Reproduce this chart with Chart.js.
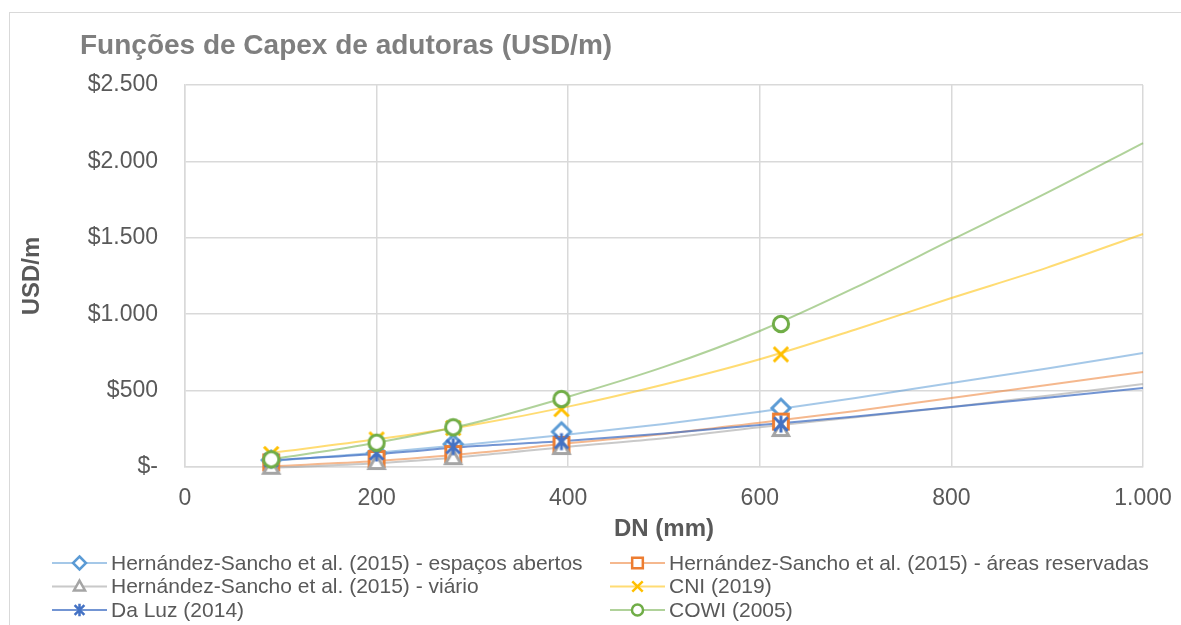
<!DOCTYPE html>
<html>
<head>
<meta charset="utf-8">
<script src="https://cdn.jsdelivr.net/npm/chart.js@4.4.1/dist/chart.umd.min.js"></script>
<style>
  html, body { margin: 0; padding: 0; background: #ffffff; overflow: hidden; }
  #wrap { position: absolute; left: 0; top: 0; width: 1181px; height: 625px; }
</style>
</head>
<body>
<div id="wrap"><canvas id="chart" width="1181" height="625"></canvas></div>
<script>
// ---- data -------------------------------------------------------------
const seriesNames = [
  'Hernández-Sancho et al. (2015) - espaços abertos',
  'Hernández-Sancho et al. (2015) - áreas reservadas',
  'Hernández-Sancho et al. (2015) - viário',
  'CNI (2019)',
  'Da Luz (2014)',
  'COWI (2005)'
];

// diameters (mm) where each cost function was evaluated
const markerDN = [90, 200, 280, 393, 622];
const espacosAbertos = [45, 92, 150, 231, 385];
const areasReservadas = [30, 52, 85, 144, 297];
const viario = [-5, 26, 58, 124, 242];
const cni2019 = [85, 180, 255, 379, 737];
const daLuz2014 = [45, 92, 133, 166, 281];
const cowi2005 = [50, 159, 260, 445, 936];

// fitted curves, extended to DN 1.000
const curveDN = [90, 200, 300, 400, 500, 600, 700, 800, 900, 1000];
const curveEspacosAbertos = [40, 94, 150, 212, 282, 362, 452, 550, 645, 746];
const curveAreasReservadas = [5, 39, 90, 155, 216, 290, 366, 452, 536, 622];
const curveViario = [-5, 24, 72, 133, 188, 260, 325, 393, 466, 543];
const curveCni2019 = [92, 181, 275, 395, 540, 705, 900, 1106, 1305, 1525];
const curveDaLuz2014 = [45, 85, 135, 172, 220, 275, 330, 393, 453, 517];
const curveCowi2005 = [50, 159, 286, 460, 655, 890, 1175, 1486, 1795, 2120];

const xTickValues = [0, 200, 400, 600, 800, 1000];
const yTickValues = [0, 500, 1000, 1500, 2000, 2500];

// ---- styling ----------------------------------------------------------
const FONT = '"Liberation Sans", Arial, sans-serif';
const TEXT = '#595959';
const GRID = '#d9d9d9';

const markerValues = [espacosAbertos, areasReservadas, viario, cni2019, daLuz2014, cowi2005];
const curveValues = [curveEspacosAbertos, curveAreasReservadas, curveViario, curveCni2019, curveDaLuz2014, curveCowi2005];
const markerKinds = ['diamond', 'square', 'triangle', 'x', 'star', 'circle'];
const colors = ['#5B9BD5', '#ED7D31', '#A5A5A5', '#FFC000', '#4472C4', '#70AD47'];
const curveColors = [
  'rgba(91,155,213,0.55)', 'rgba(237,125,49,0.55)', 'rgba(165,165,165,0.6)',
  'rgba(255,192,0,0.55)', 'rgba(68,114,196,0.75)', 'rgba(112,173,71,0.55)'
];

function drawMarker(ctx, kind, cx, cy, r, color, lw) {
  ctx.save();
  ctx.strokeStyle = color;
  ctx.fillStyle = '#ffffff';
  ctx.lineWidth = lw;
  ctx.lineJoin = 'miter';
  ctx.beginPath();
  if (kind === 'diamond') {
    ctx.moveTo(cx, cy - r); ctx.lineTo(cx + r, cy); ctx.lineTo(cx, cy + r); ctx.lineTo(cx - r, cy);
    ctx.closePath(); ctx.fill(); ctx.stroke();
  } else if (kind === 'square') {
    const s = r * 0.82;
    ctx.rect(cx - s, cy - s, 2 * s, 2 * s); ctx.fill(); ctx.stroke();
  } else if (kind === 'triangle') {
    ctx.moveTo(cx, cy - r * 0.9); ctx.lineTo(cx + r * 0.85, cy + r * 0.6); ctx.lineTo(cx - r * 0.85, cy + r * 0.6);
    ctx.closePath(); ctx.fill(); ctx.stroke();
  } else if (kind === 'x') {
    const a = r * 0.8;
    ctx.moveTo(cx - a, cy - a); ctx.lineTo(cx + a, cy + a);
    ctx.moveTo(cx + a, cy - a); ctx.lineTo(cx - a, cy + a);
    ctx.stroke();
  } else if (kind === 'star') {
    const a = r * 0.75;
    ctx.moveTo(cx - a, cy - a); ctx.lineTo(cx + a, cy + a);
    ctx.moveTo(cx + a, cy - a); ctx.lineTo(cx - a, cy + a);
    ctx.moveTo(cx, cy - r * 0.95); ctx.lineTo(cx, cy + r * 0.95);
    ctx.stroke();
  } else {
    ctx.arc(cx, cy, r * 0.85, 0, Math.PI * 2); ctx.fill(); ctx.stroke();
  }
  ctx.restore();
}

function markerCanvas(kind, color, r, lw) {
  const size = Math.ceil(2 * (r + lw)) + 2;
  const c = document.createElement('canvas');
  c.width = size; c.height = size;
  drawMarker(c.getContext('2d'), kind, size / 2, size / 2, r, color, lw);
  return c;
}

function fmtThousands(v) {
  return String(v).replace(/\B(?=(\d{3})+(?!\d))/g, '.');
}

// ---- datasets ---------------------------------------------------------
const datasets = [];
seriesNames.forEach((name, i) => {
  datasets.push({
    label: name + ' (curva)',
    data: curveDN.map((x, k) => ({ x: x, y: curveValues[i][k] })),
    showLine: true,
    borderColor: curveColors[i],
    borderWidth: 2,
    pointRadius: 0,
    cubicInterpolationMode: 'monotone',
    fill: false,
    clip: false,
    order: 40 - i
  });
});
seriesNames.forEach((name, i) => {
  datasets.push({
    label: name,
    data: markerDN.map((x, k) => ({ x: x, y: markerValues[i][k] })),
    showLine: false,
    pointStyle: markerCanvas(markerKinds[i], colors[i], 9, 3),
    pointRadius: 9,
    clip: false,
    order: 20 - i
  });
});

// ---- plugins ----------------------------------------------------------
const frameAndTitle = {
  id: 'frameAndTitle',
  beforeDraw(chart) {
    const ctx = chart.ctx;
    ctx.save();
    ctx.fillStyle = '#ffffff';
    ctx.fillRect(0, 0, chart.width, chart.height);
    ctx.strokeStyle = GRID;
    ctx.lineWidth = 1;
    ctx.strokeRect(9.5, 12.5, chart.width + 20, chart.height + 20);
    ctx.fillStyle = '#7f7f7f';
    ctx.font = 'bold 28px ' + FONT;
    ctx.textBaseline = 'middle';
    ctx.textAlign = 'left';
    ctx.fillText('Funções de Capex de adutoras (USD/m)', 80, 46);
    ctx.restore();
  }
};

const seriesLegend = {
  id: 'seriesLegend',
  afterDraw(chart) {
    const ctx = chart.ctx;
    ctx.save();
    ctx.font = '21px ' + FONT;
    ctx.textBaseline = 'middle';
    ctx.textAlign = 'left';
    const colX = [52, 610];
    seriesNames.forEach((name, i) => {
      const x0 = colX[i % 2];
      const y = 563 + Math.floor(i / 2) * 23.5;
      ctx.strokeStyle = curveColors[i];
      ctx.lineWidth = 2;
      ctx.beginPath();
      ctx.moveTo(x0, y); ctx.lineTo(x0 + 55, y);
      ctx.stroke();
      drawMarker(ctx, markerKinds[i], x0 + 27.5, y, 6.5, colors[i], 2.5);
      ctx.fillStyle = TEXT;
      ctx.fillText(name, x0 + 59, y + 1);
    });
    ctx.restore();
  }
};

// ---- chart ------------------------------------------------------------
new Chart(document.getElementById('chart'), {
  type: 'scatter',
  data: { datasets: datasets },
  options: {
    responsive: false,
    animation: false,
    devicePixelRatio: 1,
    events: [],
    layout: { padding: { top: 85, right: 38, left: 0, bottom: 0 } },
    plugins: { legend: { display: false }, tooltip: { enabled: false }, title: { display: false } },
    scales: {
      x: {
        type: 'linear',
        min: 0, max: 1000,
        afterBuildTicks(scale) { scale.ticks = xTickValues.map(v => ({ value: v })); },
        afterFit(scale) { scale.height = 158; scale.paddingLeft = 0; scale.paddingRight = 0; },
        grid: { color: GRID, lineWidth: 1.5, drawTicks: false },
        border: { color: GRID, width: 1.5 },
        ticks: {
          padding: 18,
          color: TEXT,
          font: { family: FONT, size: 23 },
          maxRotation: 0,
          callback: v => fmtThousands(v)
        },
        title: {
          display: true,
          text: 'DN (mm)',
          color: TEXT,
          font: { family: FONT, size: 24, weight: 'bold' },
          padding: { top: 0, bottom: 81 }
        }
      },
      y: {
        type: 'linear',
        min: 0, max: 2500,
        afterBuildTicks(scale) { scale.ticks = yTickValues.map(v => ({ value: v })); },
        afterFit(scale) { scale.width = 185; scale.paddingTop = 0; scale.paddingBottom = 0; },
        grid: { color: GRID, lineWidth: 1.5, drawTicks: false },
        border: { color: GRID, width: 1.5 },
        ticks: {
          padding: 27,
          color: TEXT,
          font: { family: FONT, size: 23 },
          callback: v => v === 0 ? '$-' : '$' + fmtThousands(v)
        },
        title: {
          display: true,
          text: 'USD/m',
          color: TEXT,
          font: { family: FONT, size: 24, weight: 'bold' },
          padding: { top: 18, bottom: 0 }
        }
      }
    }
  },
  plugins: [frameAndTitle, seriesLegend]
});
</script>
</body>
</html>
